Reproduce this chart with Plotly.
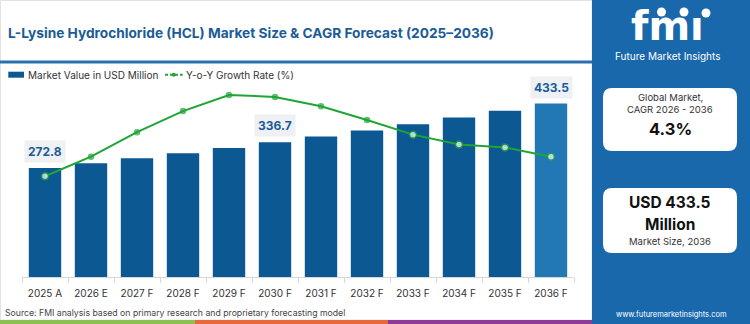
import plotly.graph_objects as go

# ---------------- data ----------------
years = ["2025 A", "2026 E", "2027 F", "2028 F", "2029 F", "2030 F",
         "2031 F", "2032 F", "2033 F", "2034 F", "2035 F", "2036 F"]
market_value = [272.8, 284.5, 296.8, 309.5, 322.8, 336.7,
                351.2, 366.3, 382.0, 398.5, 415.6, 433.5]
yoy_growth = [3.60, 4.00, 4.50, 4.93, 5.26, 5.22,
              5.03, 4.75, 4.45, 4.25, 4.19, 4.00]
labelled_years = ["2025 A", "2030 F", "2036 F"]
hollow_years = ["2025 A", "2033 F", "2034 F", "2035 F", "2036 F"]

title_text = "L-Lysine Hydrochloride (HCL) Market Size & CAGR Forecast (2025\u20132036)"
source_text = "Source: FMI analysis based on primary research and proprietary forecasting model"
cagr_text = "4.3%"
size_line1 = "USD 433.5"
size_line2 = "Million"

# ---------------- style ----------------
W, H = 750, 324
L, R, T, B = 22, 176, 80, 47
PW, PH = W - L - R, H - T - B
BAR = "#0b5893"
BAR_LAST = "#2277b5"
GREEN = "#1fa435"
TITLE = "#1b5c97"
PANEL = "#1a68ac"
FONT = "Inter, Open Sans, sans-serif"


def xp(px):
    return (px - L) / PW


def yp(py):
    return (H - B - py) / PH


bar_colors = [BAR] * (len(years) - 1) + [BAR_LAST]
m_fill = ["white" if y in hollow_years else GREEN for y in years]
m_size = [7 if y in hollow_years else 5 for y in years]

fig = go.Figure()
fig.add_trace(go.Bar(x=years, y=market_value, marker=dict(color=bar_colors, line=dict(width=0)),
                     showlegend=False, hoverinfo="skip"))
fig.add_trace(go.Scatter(x=years, y=yoy_growth, yaxis="y2", mode="lines+markers",
                         line=dict(color=GREEN, width=2),
                         marker=dict(color=m_fill, size=m_size, line=dict(color=GREEN, width=1.5)),
                         showlegend=False, hoverinfo="skip"))

shapes = []
annotations = []

# card border and header line
shapes.append(dict(type="rect", xref="paper", yref="paper", x0=xp(0.5), x1=xp(592), y0=yp(0.5), y1=yp(320),
                   line=dict(color="#e2e2e2", width=1), fillcolor="rgba(0,0,0,0)", layer="below"))
shapes.append(dict(type="line", xref="paper", yref="paper", x0=xp(0), x1=xp(592), y0=yp(62), y1=yp(62),
                   line=dict(color="#2a6fb0", width=3)))
# bottom stripes
for x0, x1, c in [(0, 195, "#8cc152"), (195, 388, "#e9683b"), (388, 592, "#8e3b97")]:
    shapes.append(dict(type="rect", xref="paper", yref="paper", x0=xp(x0), x1=xp(x1), y0=yp(320), y1=yp(324),
                       line=dict(width=0), fillcolor=c))
# right panel
shapes.append(dict(type="rect", xref="paper", yref="paper", x0=xp(592), x1=xp(750), y0=yp(0), y1=yp(324),
                   line=dict(width=0), fillcolor=PANEL))


def rounded(x0, y0, x1, y1, r):
    X = lambda v: xp(v)
    Y = lambda v: yp(v)
    return (f"M {X(x0 + r)},{Y(y0)} L {X(x1 - r)},{Y(y0)} Q {X(x1)},{Y(y0)} {X(x1)},{Y(y0 + r)} "
            f"L {X(x1)},{Y(y1 - r)} Q {X(x1)},{Y(y1)} {X(x1 - r)},{Y(y1)} "
            f"L {X(x0 + r)},{Y(y1)} Q {X(x0)},{Y(y1)} {X(x0)},{Y(y1 - r)} "
            f"L {X(x0)},{Y(y0 + r)} Q {X(x0)},{Y(y0)} {X(x0 + r)},{Y(y0)} Z")


for (y0, y1) in [(88, 151), (188, 253)]:
    shapes.append(dict(type="path", xref="paper", yref="paper", path=rounded(603, y0, 737, y1, 9),
                       fillcolor="white", line=dict(width=0)))

# logo circles
for cx, cy, rr in [(661.5, 12, 4.5), (684, 12, 4.5), (706, 13, 4.5)]:
    shapes.append(dict(type="circle", xref="paper", yref="paper", x0=xp(cx - rr), x1=xp(cx + rr),
                       y0=yp(cy - rr), y1=yp(cy + rr), fillcolor="white", line=dict(width=0)))

# legend
shapes.append(dict(type="rect", xref="paper", yref="paper", x0=xp(8.3), x1=xp(24), y0=yp(71.7), y1=yp(77.7),
                   fillcolor=BAR, line=dict(width=0)))
shapes.append(dict(type="line", xref="paper", yref="paper", x0=xp(165), x1=xp(182.7), y0=yp(74.7), y1=yp(74.7),
                   line=dict(color=GREEN, width=2, dash="3px,2px")))
shapes.append(dict(type="circle", xref="paper", yref="paper", x0=xp(171.7), x1=xp(175.7), y0=yp(72.7), y1=yp(76.7),
                   fillcolor=GREEN, line=dict(width=0)))


def ann(text, x, y, size, color="#333333", bold=False, xanchor="center", yanchor="middle", family=FONT, **kw):
    if bold:
        text = f"<b>{text}</b>"
    annotations.append(dict(text=text, xref="paper", yref="paper", x=xp(x), y=yp(y), showarrow=False,
                            xanchor=xanchor, yanchor=yanchor, font=dict(size=size, color=color, family=family), **kw))


ann(title_text, 6, 33.5, 13.7, color=TITLE, bold=True, xanchor="left")
ann("Market Value in USD Million", 26, 74.7, 10, xanchor="left")
ann("Y-o-Y Growth Rate (%)", 183.5, 74.7, 10, xanchor="left")
ann(source_text, 3, 312.5, 8.7, color="#444444", xanchor="left")

# panel texts
ann("fm\u0131", 667, 25.5, 40, color="white", bold=True, family="DejaVu Sans")
ann("Future Market Insights", 667, 55.5, 10, color="white")
ann("Global Market,", 670, 97.5, 9.5)
ann("CAGR 2026 - 2036", 670, 109.5, 9.5)
ann(cagr_text, 670, 129, 16.5, color="#111111", bold=True)
ann(size_line1, 670, 202, 15.5, color="#111111", bold=True)
ann(size_line2, 670, 224, 15.5, color="#111111", bold=True)
ann("Market Size, 2036", 670, 241, 9.5)
ann("www.futuremarketinsights.com", 671, 314, 7.5, color="white")

# bar value labels
for yr, v in zip(years, market_value):
    if yr in labelled_years:
        annotations.append(dict(x=yr, y=v, xref="x", yref="y", text=f"<b>{v:.1f}</b>", showarrow=False,
                                yanchor="bottom", yshift=5, bgcolor="#eef0f3", borderpad=3,
                                font=dict(size=12, color=TITLE, family=FONT)))

fig.update_layout(
    width=W, height=H, margin=dict(l=L, r=R, t=T, b=B),
    paper_bgcolor="white", plot_bgcolor="white",
    bargap=0.296,
    font=dict(family=FONT, color="#333333"),
    xaxis=dict(type="category", range=[-0.5, len(years) - 0.5], tickson="boundaries", ticks="outside",
               ticklen=5, tickcolor="#d6d6d6", showline=True, linecolor="#d6d6d6", linewidth=1,
               showgrid=False, tickfont=dict(size=10, color="#333333"), ticklabelstandoff=7),
    yaxis=dict(range=[0, 492.5], visible=False, showgrid=False),
    yaxis2=dict(range=[1.545, 5.565], overlaying="y", visible=False, showgrid=False),
    shapes=shapes, annotations=annotations,
)

fig.write_html("out.html")
